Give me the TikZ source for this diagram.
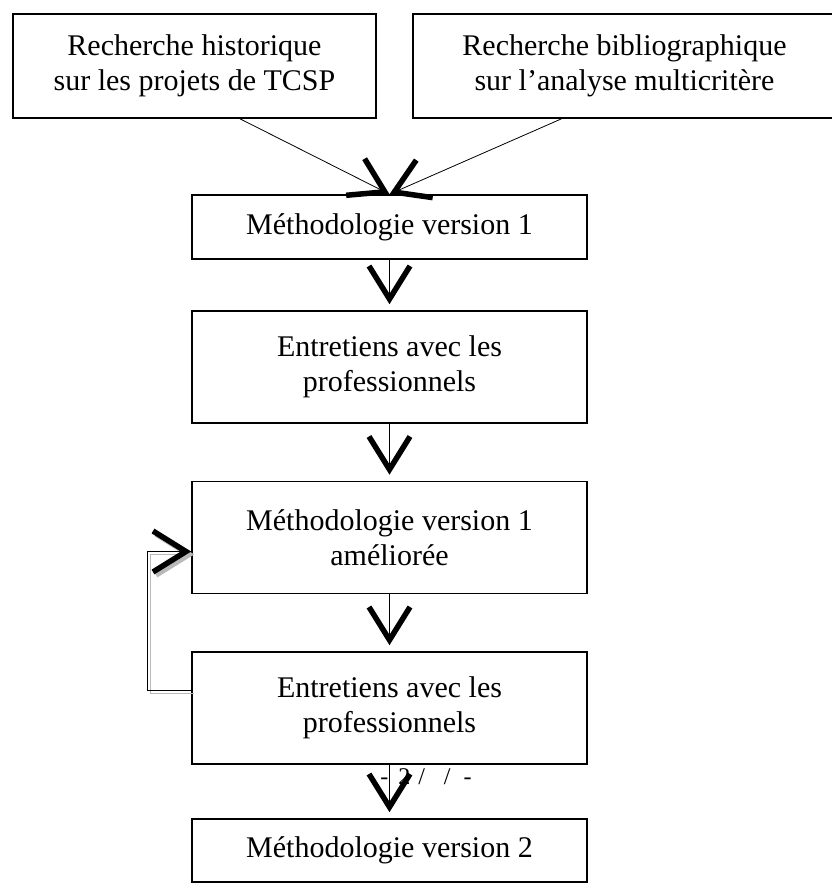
\documentclass[tikz,border=0pt]{standalone}
\usepackage{fontspec}
\setmainfont{Liberation Serif}
\usetikzlibrary{arrows.meta}

\tikzset{
  etape/.style={draw, line width=1.6pt, align=center, minimum width=395pt, inner sep=0pt,
    font=\fontsize{30}{35}\selectfont},
  fleche/.style={line width=0.8pt, -{Straight Barb[length=33pt, width=41pt, line width=5.5pt].}},
}

\begin{document}
\begin{tikzpicture}[x=1pt, y=-1pt]
  \useasboundingbox (0,0) rectangle (831,884);
  % Recherches
  \node[etape, minimum width=363pt, minimum height=104pt] (hist) at (194.5,66) {Recherche historique\\sur les projets de TCSP};
  \node[etape, minimum width=423pt, minimum height=104pt] (biblio) at (624.5,66) {Recherche bibliographique\\sur l'analyse multicritère};

  % Etapes
  \node[etape, minimum height=64pt] (meth1) at (389.5,227) {Méthodologie version 1};
  \node[etape, minimum height=112pt] (entr1) at (389.5,367) {Entretiens avec les\\professionnels};
  \node[etape, minimum height=112pt] (meth1b) at (389.5,537.5) {Méthodologie version 1\\améliorée};
  \node[etape, minimum height=112pt] (entr2) at (389.5,708) {Entretiens avec les\\professionnels};
  \node[etape, minimum height=63pt] (meth2) at (389.5,850.5) {Méthodologie version 2};

  % Numero de page
  \node[font=\fontsize{24}{28}\selectfont, inner sep=0pt] (page) at (426,777) {-\hspace{10pt}2\hspace{8pt}/\hspace{19pt}/\hspace{13pt}-};

  % Fleches
  \draw[fleche] ([xshift=45.5pt]hist.south) -- (meth1.north);
  \draw[fleche] ([xshift=-63pt]biblio.south) -- (meth1.north);
  \foreach \a/\b in {meth1/entr1, entr1/meth1b, meth1b/entr2, entr2/meth2}
    \draw[fleche, shorten >=6pt] (\a.south) -- (\b.north);

  % Boucle
  \draw[fleche, gray!55, transform canvas={xshift=3pt, yshift=-3pt}] ([yshift=18pt]entr2.west) -- ++(-44,0) |- ([yshift=-14pt]meth1b.west);
  \draw[fleche] ([yshift=18pt]entr2.west) -- ++(-44,0) |- ([yshift=-14pt]meth1b.west);
\end{tikzpicture}
\end{document}
